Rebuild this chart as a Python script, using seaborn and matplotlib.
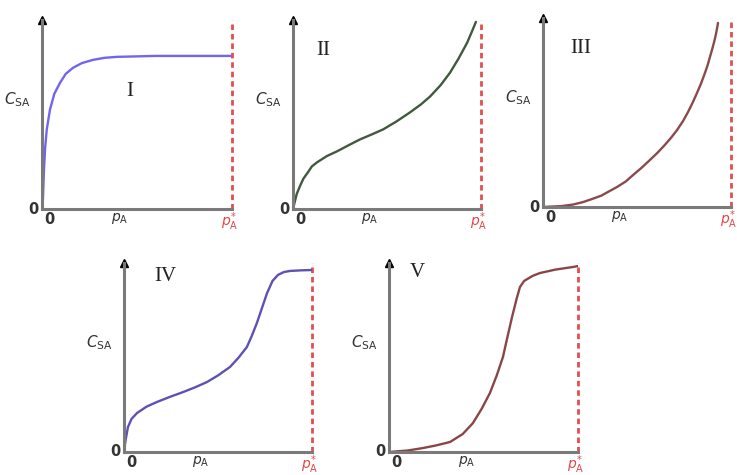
import numpy as np
import pandas as pd
import matplotlib.pyplot as plt
import seaborn as sns

# Isotherm shapes (p_A / p*_A , relative C_SA)
x_I = [0, 0.005, 0.01, 0.016, 0.025, 0.042, 0.065, 0.095, 0.125, 0.163, 0.21,
       0.268, 0.33, 0.395, 0.6, 0.8, 1.0]
y_I = [0, 0.053, 0.2, 0.316, 0.42, 0.526, 0.61, 0.668, 0.715, 0.747, 0.772,
       0.789, 0.8, 0.805, 0.81, 0.81, 0.81]

x_II = [0, 0.01, 0.02, 0.037, 0.055, 0.08, 0.1, 0.128, 0.18, 0.234, 0.295, 0.356,
        0.42, 0.479, 0.55, 0.622, 0.68, 0.729, 0.785, 0.835, 0.88, 0.926, 0.95, 0.973]
y_II = [0, 0.04, 0.08, 0.121, 0.16, 0.195, 0.225, 0.247, 0.28, 0.305, 0.337, 0.368,
        0.395, 0.421, 0.463, 0.511, 0.553, 0.595, 0.655, 0.721, 0.795, 0.879, 0.935, 0.99]

x_III = [0, 0.1, 0.16, 0.213, 0.26, 0.31, 0.35, 0.394, 0.44, 0.48, 0.525, 0.569,
         0.61, 0.645, 0.68, 0.713, 0.745, 0.77, 0.795, 0.819, 0.84, 0.858, 0.875,
         0.888, 0.9, 0.912, 0.922, 0.931]
y_III = [0, 0.005, 0.013, 0.026, 0.042, 0.06, 0.082, 0.106, 0.135, 0.17, 0.208,
         0.249, 0.288, 0.325, 0.365, 0.407, 0.455, 0.5, 0.55, 0.603, 0.652, 0.7,
         0.748, 0.794, 0.835, 0.88, 0.925, 0.974]

x_IV = [0, 0.008, 0.021, 0.04, 0.069, 0.12, 0.176, 0.245, 0.314, 0.38, 0.441, 0.5,
        0.564, 0.61, 0.654, 0.68, 0.707, 0.735, 0.761, 0.79, 0.819, 0.85, 0.883,
        0.94, 1.0]
y_IV = [0, 0.06, 0.132, 0.175, 0.206, 0.24, 0.265, 0.292, 0.317, 0.343, 0.37, 0.405,
        0.45, 0.5, 0.556, 0.615, 0.683, 0.765, 0.841, 0.905, 0.937, 0.952, 0.958,
        0.961, 0.963]

x_V = [0, 0.1, 0.18, 0.25, 0.323, 0.39, 0.444, 0.49, 0.534, 0.57, 0.603, 0.627,
       0.651, 0.675, 0.693, 0.715, 0.74, 0.76, 0.799, 0.88, 0.974, 1.0]
y_V = [0, 0.008, 0.021, 0.035, 0.053, 0.095, 0.153, 0.228, 0.312, 0.405, 0.503,
       0.61, 0.714, 0.81, 0.873, 0.905, 0.92, 0.932, 0.947, 0.965, 0.979, 0.984]

labels = ["I", "II", "III", "IV", "V"]
colors = ["#7264f2", "#3f5a3c", "#8a4a4c", "#5d52b4", "#8a4646"]
curves = [(x_I, y_I), (x_II, y_II), (x_III, y_III), (x_IV, y_IV), (x_V, y_V)]

# axes rectangles in figure pixels: left, origin y, right, top
W, H = 737, 475
boxes = [(42, 209, 232, 20), (293, 209, 481, 20), (543, 207, 731, 18),
         (124, 452, 312, 263), (389, 452, 578, 263)]
label_pos = [(0.46, 0.62), (0.16, 0.84), (0.2, 0.84), (0.22, 0.93), (0.15, 0.95)]

sns.set_style("white")
plt.rcParams["font.family"] = ["DejaVu Sans"]
plt.rcParams["mathtext.fontset"] = "dejavusans"

fig = plt.figure(figsize=(W / 100, H / 100), dpi=100)

for (xs, ys), name, col, (l, b, r, t), (lx, ly) in zip(curves, labels, colors, boxes, label_pos):
    ax = fig.add_axes([l / W, (H - b) / H, (r - l) / W, (b - t) / H])
    df = pd.DataFrame({"p": xs, "c": ys})
    sns.lineplot(data=df, x="p", y="c", ax=ax, color=col, lw=1.7,
                 sort=False, estimator=None)
    ax.axvline(1.0, color="#e05050", ls=(0, (2.0, 1.4)), lw=2.0, clip_on=False,
               zorder=1)
    ax.set_xlim(0, 1)
    ax.set_ylim(0, 1)
    ax.set_xticks([])
    ax.set_yticks([])
    ax.set_xlabel("")
    ax.set_ylabel("")
    for s in ["top", "right"]:
        ax.spines[s].set_visible(False)
    for s in ["left", "bottom"]:
        ax.spines[s].set_color("#7a7a7a")
        ax.spines[s].set_linewidth(2.2)
    ax.plot(0, 1.0, marker="^", color="black", ms=6, clip_on=False,
            transform=ax.transAxes)

    ax.text(lx, ly, name, transform=ax.transAxes, fontsize=15,
            family="Liberation Serif", color="#222222", ha="center", va="center")
    ax.text(-0.06, 0.58, r"$C_{\mathrm{SA}}$", transform=ax.transAxes,
            fontsize=11, color="#333333", ha="right", va="center")
    ax.text(-0.02, 0.0, "0", transform=ax.transAxes, fontsize=10.5,
            color="#333333", ha="right", va="center", weight="bold")
    ax.text(0.01, -0.015, "0", transform=ax.transAxes, fontsize=10.5,
            color="#333333", ha="left", va="top", weight="bold")
    ax.text(0.41, -0.01, r"$p_{\mathrm{A}}$", transform=ax.transAxes,
            fontsize=10, color="#333333", ha="center", va="top")
    ax.text(0.99, -0.01, r"$p^{*}_{\mathrm{A}}$", transform=ax.transAxes,
            fontsize=10, color="#e04848", ha="center", va="top", zorder=5)

fig.savefig("out.png", dpi=100)
